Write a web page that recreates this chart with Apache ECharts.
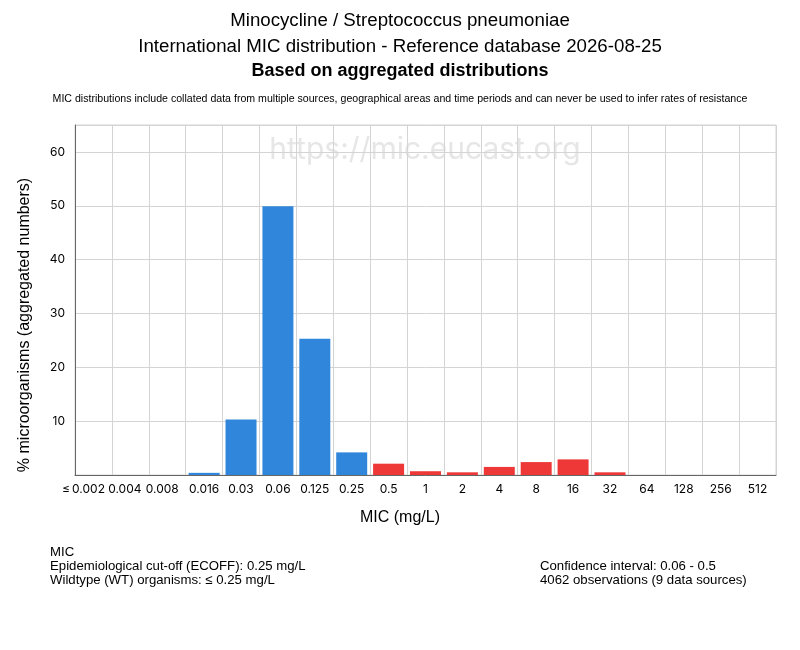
<!DOCTYPE html>
<html>
<head>
<meta charset="utf-8">
<script src="https://cdn.jsdelivr.net/npm/echarts@6/dist/echarts.min.js"></script>
<style>
  html, body { margin: 0; padding: 0; background: #fff; }
  #chart { width: 800px; height: 650px; }
</style>
</head>
<body>
<div id="chart"></div>
<script>
// MIC classes (mg/L) and % of isolates
const mics = ['≤\u20090.002', '0.004', '0.008', '0.016', '0.03', '0.06', '0.125', '0.25', '0.5',
    '1', '2', '4', '8', '16', '32', '64', '128', '256', '512']
const percents = [0, 0, 0, 0.4, 10.3, 49.9, 25.3, 4.2, 2.1,
    0.7, 0.5, 1.5, 2.4, 2.9, 0.5, 0, 0, 0, 0]
const ecoffIndex = 7 // 0.25 mg/L, last wildtype class
const yTicks = [10, 20, 30, 40, 50, 60]

const sans = '"Liberation Sans", Arial, sans-serif'
const ticks = 'Inter, "Liberation Sans", sans-serif'

let myChart = echarts.init(document.getElementById('chart'), null, { renderer: 'canvas' })

// the first three labels are nudged left in the original so they don't collide
const labelStyle = { fontFamily: ticks, fontSize: 12, color: '#000' }
const nudge = ['s20', 's11', 's10']

myChart.setOption({
    animation: false,
    title: [
        {
            text: 'Minocycline / Streptococcus pneumoniae',
            left: 'center', top: 6,
            textStyle: { fontFamily: sans, fontSize: 18.7, fontWeight: 'normal', color: '#000' }
        },
        {
            text: 'International MIC distribution - Reference database 2026-08-25',
            left: 'center', top: 32,
            textStyle: { fontFamily: sans, fontSize: 18.7, fontWeight: 'normal', color: '#000' }
        },
        {
            text: 'Based on aggregated distributions',
            left: 'center', top: 57,
            textStyle: { fontFamily: sans, fontSize: 18, fontWeight: 'bold', color: '#000' }
        },
        {
            text: 'MIC distributions include collated data from multiple sources, geographical areas and time periods and can never be used to infer rates of resistance',
            left: 'center', top: 89,
            textStyle: { fontFamily: sans, fontSize: 10.6, fontWeight: 'normal', color: '#000' }
        }
    ],
    graphic: [
        {
            type: 'text', x: 425, y: 150, z: -1,
            style: {
                text: 'https://mic.eucast.org', fontFamily: ticks, fontSize: 30, fill: '#e6e6e6',
                align: 'center', verticalAlign: 'middle'
            }
        },
        {
            type: 'text', x: 25, y: 325, rotation: Math.PI / 2,
            style: {
                text: '% microorganisms (aggregated numbers)', fontFamily: sans, fontSize: 16,
                fill: '#000', align: 'center', verticalAlign: 'middle'
            }
        },
        {
            type: 'text', x: 400, y: 518,
            style: {
                text: 'MIC (mg/L)', fontFamily: sans, fontSize: 16,
                fill: '#000', align: 'center', verticalAlign: 'middle'
            }
        },
        {
            type: 'text', left: 50, top: 545,
            style: {
                text: 'MIC\nEpidemiological cut-off (ECOFF): 0.25 mg/L\nWildtype (WT) organisms: ≤ 0.25 mg/L',
                fontFamily: sans, fontSize: 13.2, lineHeight: 14, fill: '#000'
            }
        },
        {
            type: 'text', left: 540, top: 559,
            style: {
                text: 'Confidence interval: 0.06 - 0.5\n4062 observations (9 data sources)',
                fontFamily: sans, fontSize: 13.2, lineHeight: 14, fill: '#000'
            }
        }
    ],
    grid: {
        left: 75, right: 24, top: 125, bottom: 175,
        show: true, borderColor: '#d4d4d4', borderWidth: 1
    },
    xAxis: {
        type: 'category',
        data: mics,
        axisLine: { lineStyle: { color: '#666', width: 1 } },
        axisTick: { show: false },
        axisLabel: {
            interval: 0, margin: 8, ...labelStyle,
            formatter: (v, i) => i < nudge.length ? `{${nudge[i]}|${v}}` : v,
            rich: {
                s20: { ...labelStyle, padding: [0, 20, 0, 0] },
                s11: { ...labelStyle, padding: [0, 11, 0, 0] },
                s10: { ...labelStyle, padding: [0, 10, 0, 0] }
            }
        },
        splitLine: { show: true, interval: 0, lineStyle: { color: '#d4d4d4', width: 1 } }
    },
    yAxis: {
        type: 'value',
        min: 0, max: 65, interval: 10,
        axisLine: { show: true, lineStyle: { color: '#666', width: 1 } },
        axisTick: { show: false },
        axisLabel: {
            ...labelStyle, margin: 10,
            formatter: v => yTicks.includes(v) ? String(v) : ''
        },
        splitLine: { lineStyle: { color: '#d4d4d4', width: 1 } }
    },
    series: [
        {
            type: 'bar',
            data: percents,
            barCategoryGap: '16%',
            itemStyle: {
                color: p => p.dataIndex <= ecoffIndex ? '#3086da' : '#ee3737'
            }
        }
    ]
})
</script>
</body>
</html>
